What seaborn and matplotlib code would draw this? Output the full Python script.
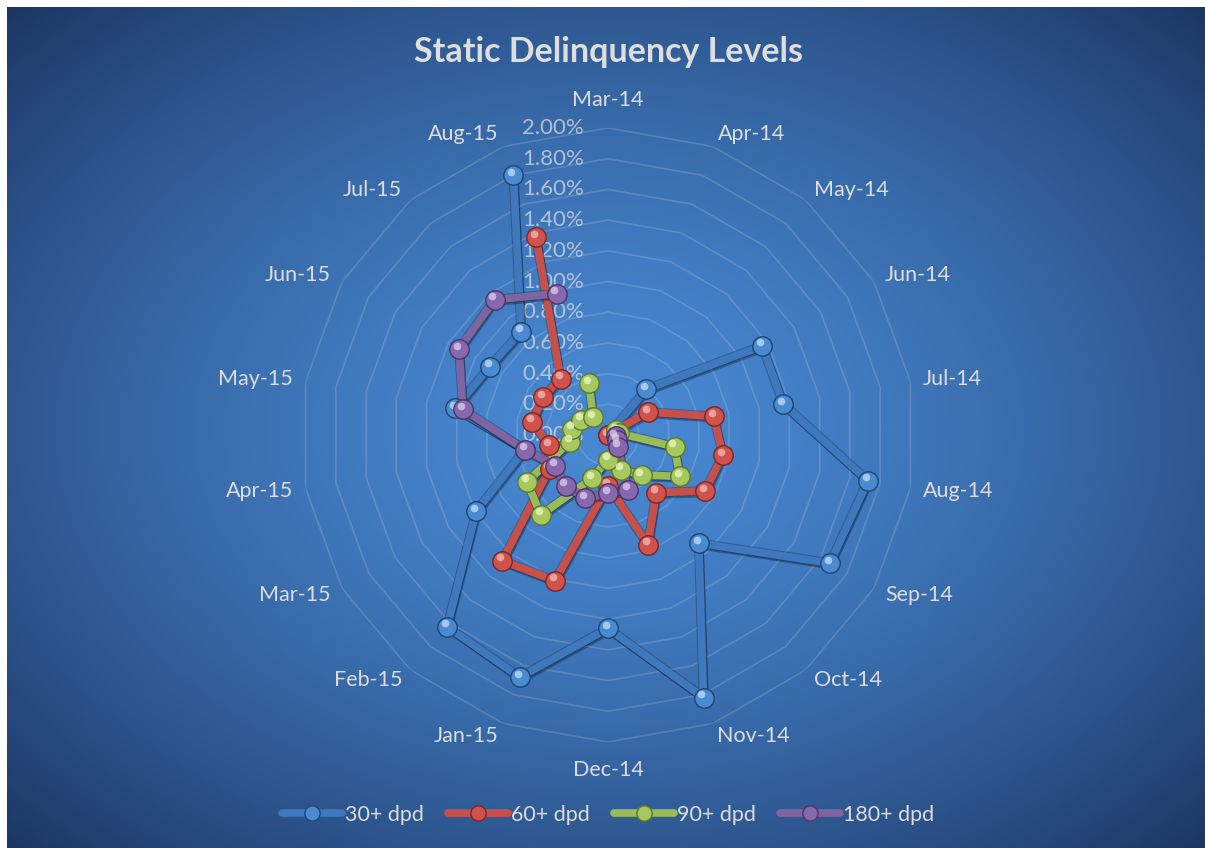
import numpy as np
import pandas as pd
import matplotlib
matplotlib.use("Agg")
import matplotlib.pyplot as plt
import matplotlib.patheffects as pe
import matplotlib.transforms as mtransforms
from matplotlib.lines import Line2D
import seaborn as sns

# ---------------- data ----------------
categories = ["Mar-14", "Apr-14", "May-14", "Jun-14", "Jul-14", "Aug-14", "Sep-14",
              "Oct-14", "Nov-14", "Dec-14", "Jan-15", "Feb-15", "Mar-15", "Apr-15",
              "May-15", "Jun-15", "Jul-15", "Aug-15"]
nan = np.nan
dpd30 = [nan, 0.00, 0.39, 1.16, 1.16, 1.72, 1.67, 0.92, 1.82, 1.26, 1.68, 1.63, 0.99, 0.55, 1.01, 0.89, 0.88, 1.80]
dpd60 = [nan, nan, 0.00, 0.30, 0.70, 0.76, 0.73, 0.49, 0.76, 0.33, 1.01, 1.07, 0.44, 0.39, 0.50, 0.49, 0.48, 1.37]
dpd90 = [nan, nan, nan, 0.06, 0.07, 0.44, 0.54, 0.34, 0.24, 0.16, 0.30, 0.68, 0.61, 0.25, 0.24, 0.20, 0.15, 0.36]
dpd180 = [nan, nan, nan, nan, nan, 0.05, 0.07, 0.10, 0.38, 0.38, 0.44, 0.43, 0.40, 0.55, 0.96, 1.12, 1.15, 0.98]
series_names = ["30+ dpd", "60+ dpd", "90+ dpd", "180+ dpd"]
radial_ticks = [0.0, 0.2, 0.4, 0.6, 0.8, 1.0, 1.2, 1.4, 1.6, 1.8, 2.0]
title = "Static Delinquency Levels"

colors = ["#3f78bd", "#c8504b", "#9bbb59", "#8064a2"]
marker_colors = ["#4a8ad0", "#d0524c", "#a6c85e", "#8767ad"]
dark = ["#1f4573", "#7e2624", "#5d7a2a", "#4b3766"]
light = ["#c4def8", "#f5bcb8", "#eef8c4", "#dccdf0"]

n = len(categories)
thetas = np.arange(n) * 2 * np.pi / n

rows = []
for name, vals in zip(series_names, [dpd30, dpd60, dpd90, dpd180]):
    for cat, th, v in zip(categories, thetas, vals):
        rows.append({"series": name, "category": cat, "theta": th, "value": v})
df = pd.DataFrame(rows).dropna()

# ---------------- figure ----------------
sns.set_theme(style="white")
plt.rcParams["font.family"] = ["Lato", "DejaVu Sans"]

W, H = 1205, 848
fig = plt.figure(figsize=(W / 100, H / 100), dpi=100)
fig.patch.set_facecolor("white")

# background gradient (chart area leaves a thin white frame top/left)
bg = fig.add_axes([7 / W, 0, (W - 7) / W, (H - 7) / H])
bg.set_axis_off()
GH, GW = 420, 600
yy, xx = np.mgrid[0:GH, 0:GW]
cx, cy = GW * (601 / 1198), GH * (420 / 841)
dx = (xx - cx) / GW
dy = (yy - cy) / GH
d = np.sqrt(dx ** 2 + dy ** 2) / 0.72
d = np.clip(d, 0, 1)
c_in = np.array([0x48, 0x88, 0xd2]) / 255
c_out = np.array([0x1b, 0x34, 0x60]) / 255
t = d ** 1.5
img = c_in[None, None, :] * (1 - t[..., None]) + c_out[None, None, :] * t[..., None]
bg.imshow(img, aspect="auto", extent=[0, 1, 0, 1], origin="upper", interpolation="bilinear")
bg.set_xlim(0, 1)
bg.set_ylim(0, 1)

# polar axes
cxp, cyp, R = 608, 435, 307
ax = fig.add_axes([(cxp - R) / W, (H - cyp - R) / H, 2 * R / W, 2 * R / H], projection="polar")
ax.patch.set_alpha(0)
ax.set_theta_zero_location("N")
ax.set_theta_direction(-1)
ax.set_ylim(0, 2.0)
ax.grid(False)
ax.spines["polar"].set_visible(False)
ax.set_xticks([])
ax.set_yticks([])

# polygon grid rings
ring_th = np.append(thetas, thetas[0])
for rv in radial_ticks[1:]:
    ax.plot(ring_th, [rv] * len(ring_th), color="white", alpha=0.15, lw=1.2, zorder=1)

# series
palette = dict(zip(series_names, colors))
sns.lineplot(data=df, x="theta", y="value", hue="series", palette=palette, sort=False,
             estimator=None, ax=ax, lw=5.5, legend=False, zorder=3)
for line in ax.get_lines()[-4:]:
    line.set_path_effects([
        pe.Stroke(linewidth=7.0, foreground="#102a4c", alpha=0.35),
        pe.SimpleLineShadow(offset=(1.0, -1.8), shadow_color="black", alpha=0.3),
        pe.Normal()])
    line.set_solid_capstyle("round")
    line.set_solid_joinstyle("round")

hl = mtransforms.offset_copy(ax.transData, fig=fig, x=-1.5, y=2.5, units="points")
for i, name in enumerate(series_names):
    sub = df[df["series"] == name]
    ax.plot(sub["theta"], sub["value"], ls="none", marker="o", ms=14, mfc=marker_colors[i],
            mec=dark[i], mew=1.0, zorder=4 + i * 0.1)
    ax.plot(sub["theta"], sub["value"], ls="none", marker="o", ms=5.5, mfc=light[i],
            mec="none", alpha=0.75, zorder=4.05 + i * 0.1, transform=hl)

# category labels
for th, cat in zip(thetas, categories):
    s, c = np.sin(th), np.cos(th)
    if abs(s) < 1e-6:
        dpx, ha = 28, "center"
    else:
        dpx = 13
        ha = "left" if s > 0 else "right"
    ax.annotate(cat, xy=(th, 2.0), xytext=(dpx * s, dpx * c),
                textcoords="offset pixels", ha=ha, va="center",
                fontsize=15.5, color="#dcdcdc", zorder=6)

# radial tick labels
for rv in radial_ticks:
    ax.annotate(f"{rv:.2f}%", xy=(0, rv), xytext=(-24, 0), textcoords="offset pixels",
                ha="right", va="center", fontsize=16, color="#d0d4da", alpha=0.8, zorder=2)

# title
fig.text(609 / W, 1 - 52 / H, title, ha="center", va="center", fontsize=24.5,
         fontweight="bold", color="#dedede")

# legend
handles = []
for i, name in enumerate(series_names):
    handles.append(Line2D([0], [0], color=colors[i], lw=5.5, marker="o", ms=11,
                          mfc=marker_colors[i], mec=dark[i], mew=1.0, label=name))
leg = fig.legend(handles=handles, loc="center", bbox_to_anchor=(608 / W, 1 - 815 / H),
                 ncol=4, frameon=False, fontsize=15.5, handlelength=2.8, handletextpad=0.15,
                 columnspacing=1.1, labelcolor="#dcdcdc")

fig.savefig("out.png", dpi=100, facecolor=fig.get_facecolor())
